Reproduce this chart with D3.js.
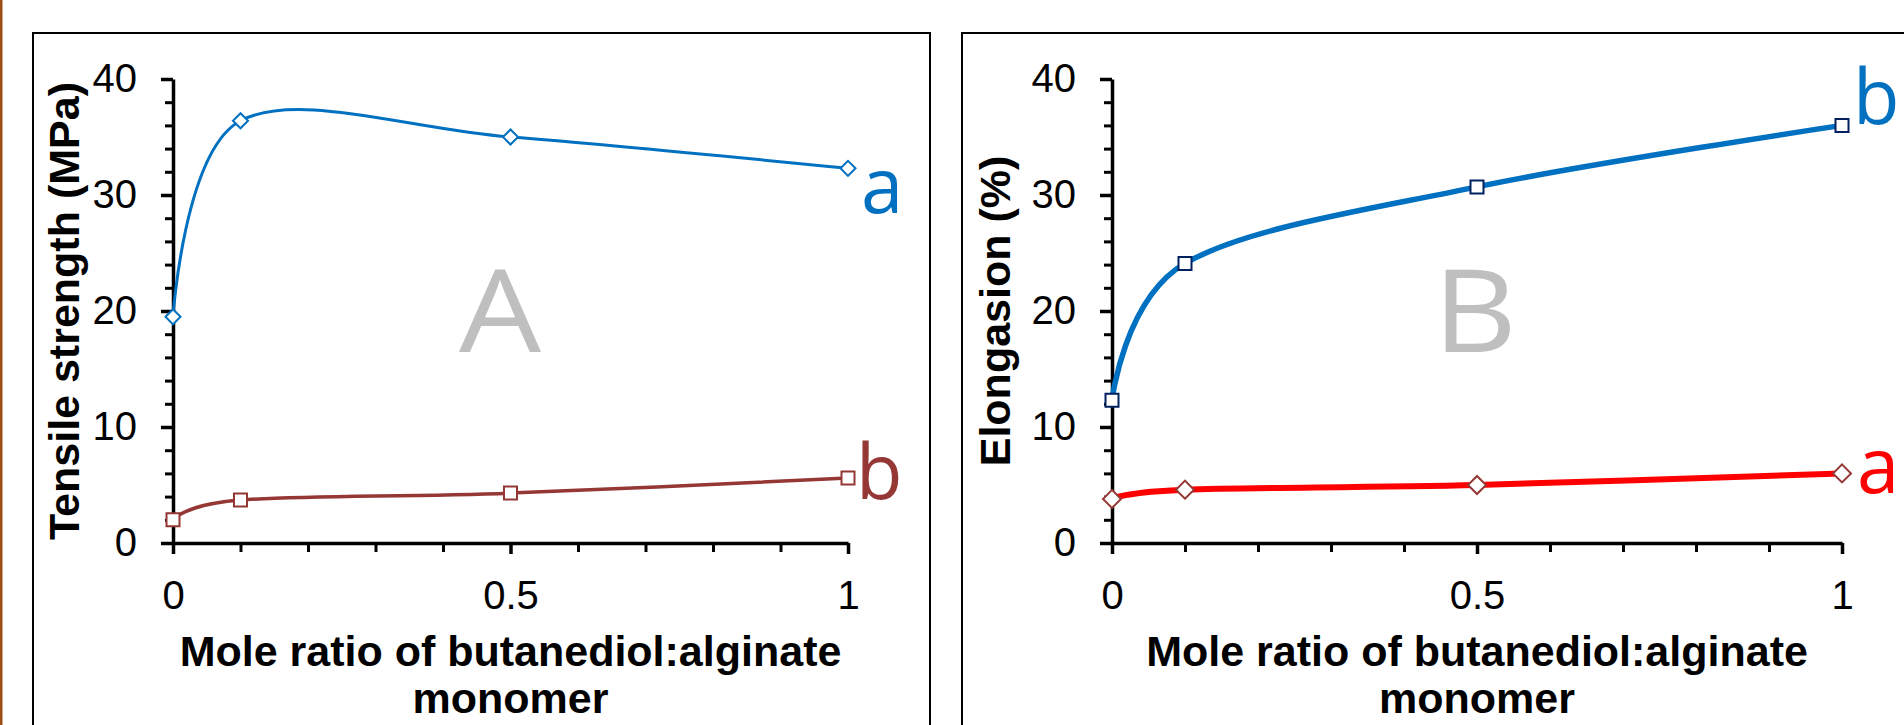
<!DOCTYPE html>
<html>
<head>
<meta charset="utf-8">
<script src="https://cdn.jsdelivr.net/npm/d3@7"></script>
<style>
  body { margin: 0; background: #fff; }
  svg { display: block; }
</style>
</head>
<body>
<div id="vis"></div>
<script>
const width = 1904;
const height = 725;

// data
const ratio = [0, 0.1, 0.5, 1];
const tensileA = [19.5, 36.4, 35.0, 32.3];
const tensileB = [2.0, 3.7, 4.3, 5.6];
const elongB = [12.3, 24.1, 30.7, 36.0];
const elongA = [3.8, 4.6, 5.0, 6.0];
const yMajor = [0, 10, 20, 30, 40];
const yMinor = [2, 4, 6, 8, 12, 14, 16, 18, 22, 24, 26, 28, 32, 34, 36, 38];
const xMajor = [0, 0.5, 1];
const xMinor = [0.1, 0.2, 0.3, 0.4, 0.6, 0.7, 0.8, 0.9];

const svg = d3.select("#vis")
  .append("svg")
  .attr("width", width)
  .attr("height", height);

// brown strip at far left
svg.append("rect")
  .attr("x", 0).attr("y", 0)
  .attr("width", 2.5).attr("height", height)
  .attr("fill", "#9c4d14");

const y = d3.scaleLinear().domain([0, 40]).range([543, 79]);

const panels = [
  {
    box: [33, 33, 930],
    x: d3.scaleLinear().domain([0, 1]).range([173, 848]),
    yTitle: "Tensile strength (MPa)",
    titleX: 79,
    letter: "A",
    letterX: 500,
    series: [
      { values: tensileA, color: "#0070c0", width: 3, shape: "diamond", mstroke: "#0070c0", msize: 113,
        label: "a", dx: 13, dy: 45 },
      { values: tensileB, color: "#953735", width: 3.5, shape: "square", mstroke: "#953735", msize: 169,
        label: "b", dx: 8, dy: 21 }
    ]
  },
  {
    box: [962, 33, 1920],
    x: d3.scaleLinear().domain([0, 1]).range([1112, 1842]),
    yTitle: "Elongasion (%)",
    titleX: 1010,
    letter: "B",
    letterX: 1475,
    series: [
      { values: elongB, color: "#0070c0", width: 5.5, shape: "square", mstroke: "#002060", msize: 169,
        label: "b", dx: 11, dy: -1 },
      { values: elongA, color: "#ff0000", width: 6, shape: "diamond", mstroke: "#953735", msize: 162,
        label: "a", dx: 15, dy: 20 }
    ]
  }
];

panels.forEach(p => drawPanel(p));

function drawPanel(p) {
  const x = p.x;
  const g = svg.append("g");

  // frame
  g.append("rect")
    .attr("x", p.box[0]).attr("y", p.box[1])
    .attr("width", p.box[2] - p.box[0]).attr("height", 800)
    .attr("fill", "none")
    .attr("stroke", "#000")
    .attr("stroke-width", 2);

  // big grey panel letter
  g.append("text")
    .attr("x", p.letterX).attr("y", 352)
    .attr("text-anchor", "middle")
    .attr("font-family", "Open Sans, sans-serif")
    .attr("font-size", "116px")
    .attr("fill", "#bfbfbf")
    .attr("transform", `translate(${p.letterX},0) scale(1.12,1) translate(${-p.letterX},0)`)
    .text(p.letter);

  // minor ticks
  g.append("g")
    .attr("transform", `translate(${x(0)},0)`)
    .call(d3.axisLeft(y).tickValues(yMinor).tickSize(8).tickFormat(""))
    .call(a => a.select(".domain").remove())
    .call(a => a.selectAll("line").attr("stroke-width", 3));

  g.append("g")
    .attr("transform", `translate(0,${y(0)})`)
    .call(d3.axisBottom(x).tickValues(xMinor).tickSize(9).tickFormat(""))
    .call(a => a.select(".domain").remove())
    .call(a => a.selectAll("line").attr("stroke-width", 3));

  // major ticks + axis lines
  const yAxis = g.append("g")
    .attr("transform", `translate(${x(0)},0)`)
    .call(d3.axisLeft(y).tickValues(yMajor).tickSize(12).tickSizeOuter(0).tickPadding(24));

  const xAxis = g.append("g")
    .attr("transform", `translate(0,${y(0)})`)
    .call(d3.axisBottom(x).tickValues(xMajor).tickSize(11).tickSizeOuter(0).tickPadding(27)
      .tickFormat(d => d3.format("")(d)));

  [yAxis, xAxis].forEach(a => {
    a.select(".domain").attr("stroke-width", 3.5);
    a.selectAll("line").attr("stroke-width", 3.5);
    a.selectAll("text")
      .attr("font-family", "Liberation Sans, Arial, sans-serif")
      .attr("font-size", "40px")
      .attr("fill", "#000");
  });

  // axis titles
  g.append("text")
    .attr("transform", `translate(${p.titleX},${(y(0) + y(40)) / 2}) rotate(-90)`)
    .attr("text-anchor", "middle")
    .attr("font-family", "Liberation Sans, Arial, sans-serif")
    .attr("font-weight", "bold")
    .attr("font-size", "43px")
    .text(p.yTitle);

  const xt = g.append("text")
    .attr("text-anchor", "middle")
    .attr("font-family", "Liberation Sans, Arial, sans-serif")
    .attr("font-weight", "bold")
    .attr("font-size", "43px");
  xt.append("tspan").attr("x", x(0.5)).attr("y", 666).text("Mole ratio of butanediol:alginate");
  xt.append("tspan").attr("x", x(0.5)).attr("y", 713).text("monomer");

  // series
  p.series.forEach(s => {
    const pts = ratio.map((r, i) => ({ r, v: s.values[i] }));

    g.append("path")
      .datum(pts)
      .attr("fill", "none")
      .attr("stroke", s.color)
      .attr("stroke-width", s.width)
      .attr("d", d3.line()
        .curve(d3.curveCardinal.tension(0))
        .x(d => x(d.r))
        .y(d => y(d.v)));

    g.selectAll(null)
      .data(pts)
      .enter()
      .append("path")
      .attr("transform", d => `translate(${x(d.r)},${y(d.v)})` + (s.shape === "diamond" ? " rotate(45)" : ""))
      .attr("d", d3.symbol().type(d3.symbolSquare).size(s.msize))
      .attr("fill", "#fff")
      .attr("stroke", s.mstroke)
      .attr("stroke-width", 2);

    const last = pts[pts.length - 1];
    g.append("text")
      .attr("x", x(last.r) + s.dx)
      .attr("y", y(last.v) + s.dy)
      .attr("font-family", "Open Sans, sans-serif")
      .attr("font-size", "76px")
      .attr("fill", s.color)
      .text(s.label);
  });
}
</script>
</body>
</html>
